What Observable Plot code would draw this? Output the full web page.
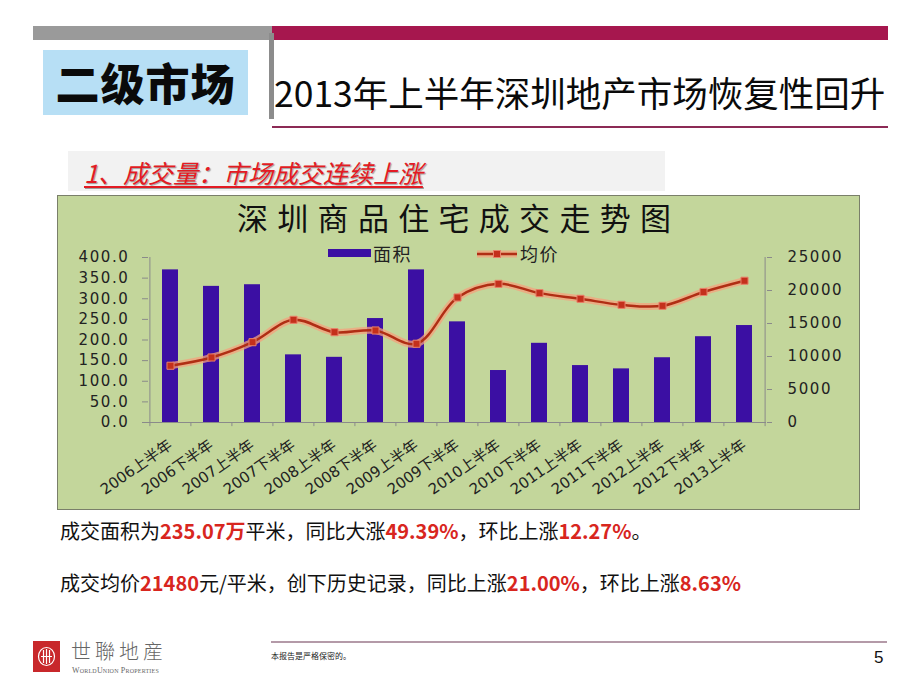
<!DOCTYPE html>
<html><head><meta charset="utf-8">
<script src="https://cdn.jsdelivr.net/npm/d3@7"></script>
<script src="https://cdn.jsdelivr.net/npm/@observablehq/plot@0.6"></script>
<style>
body{margin:0;background:#fff;}
#slide{position:relative;width:920px;height:690px;overflow:hidden;font-family:"Noto Sans CJK SC",sans-serif;color:#111;}
.abs{position:absolute;white-space:nowrap;}
.red{color:#d8261e;font-weight:bold;}
#chartbox{position:absolute;left:57px;top:195px;width:803px;height:315px;box-sizing:border-box;border:1px solid #7a7f6a;background:#c3d69b;}
#chart{position:absolute;left:0;top:0;}
#chart svg [aria-label="y-axis tick label"] text{letter-spacing:1.6px;}
</style></head><body>
<div id="slide">
  <div class="abs" style="left:33px;top:26px;width:239px;height:14px;background:#9a9a9a"></div>
  <div class="abs" style="left:272px;top:26px;width:616px;height:14px;background:#a6174e"></div>
  <div class="abs" style="left:269px;top:33px;width:5px;height:86px;background:#8c8c8c"></div>
  <div class="abs" style="left:43px;top:50px;width:205px;height:65px;background:#b7dff5;text-align:center;line-height:65px;font-size:44px;font-weight:900;color:#0a0a0a;letter-spacing:1px">二级市场</div>
  <div class="abs" style="left:274px;top:74px;font-size:35.5px;line-height:36px;color:#0a0a0a">2013年上半年深圳地产市场恢复性回升</div>
  <div class="abs" style="left:272px;top:126px;width:616px;height:2px;background:#8c2a55"></div>

  <div class="abs" style="left:68px;top:151px;width:597px;height:40px;background:#f2f2f2"></div>
  <div class="abs" style="left:84px;top:158px;font-size:25px;line-height:28px;color:#e31b23;font-style:italic;text-decoration:underline;text-decoration-thickness:1.5px;text-underline-offset:3px;text-shadow:1px 1px 1px rgba(0,0,0,0.35)">1、成交量：市场成交连续上涨</div>

  <div id="chartbox">
    <div id="chart"></div>
    <div class="abs" style="left:179px;top:5px;font-size:31px;line-height:31px;letter-spacing:9.3px;color:#111">深圳商品住宅成交走势图</div>
    <div class="abs" style="left:270px;top:53px;width:43px;height:8px;background:#3b0fa3"></div>
    <div class="abs" style="left:315px;top:48px;font-size:18px;line-height:18px;letter-spacing:1.5px;color:#222">面积</div>
    <svg class="abs" style="left:418px;top:50px" width="42" height="16">
      <line x1="1" y1="8" x2="41" y2="8" stroke="#f5a07c" stroke-width="7" stroke-opacity="0.75"/>
      <line x1="1" y1="8" x2="41" y2="8" stroke="#b02e14" stroke-width="2.5"/>
      <rect x="17.5" y="4.5" width="7" height="7" fill="#c4301c" stroke="#e8806a" stroke-width="1"/>
    </svg>
    <div class="abs" style="left:462px;top:48px;font-size:18px;line-height:18px;letter-spacing:1.5px;color:#222">均价</div>
  </div>

  <div class="abs" style="left:60px;top:520px;font-size:20px;line-height:22px;color:#111">成交面积为<span class="red">235.07万</span>平米，同比大涨<span class="red">49.39%</span>，环比上涨<span class="red">12.27%</span>。</div>
  <div class="abs" style="left:60px;top:572px;font-size:20px;line-height:22px;color:#111">成交均价<span class="red">21480</span>元/平米，创下历史记录，同比上涨<span class="red">21.00%</span>，环比上涨<span class="red">8.63%</span></div>

  <svg class="abs" style="left:33px;top:641px" width="27" height="31">
    <rect x="0" y="0" width="27" height="31" fill="#c8282b"/>
    <ellipse cx="13.5" cy="15.5" rx="8" ry="9" fill="none" stroke="#fff" stroke-width="1.2"/>
    <line x1="10.5" y1="9" x2="10.5" y2="22" stroke="#fff" stroke-width="1.2"/>
    <line x1="13.5" y1="8" x2="13.5" y2="23" stroke="#fff" stroke-width="1.2"/>
    <line x1="16.5" y1="9" x2="16.5" y2="22" stroke="#fff" stroke-width="1.2"/>
    <line x1="8" y1="15.5" x2="19" y2="15.5" stroke="#fff" stroke-width="1"/>
  </svg>
  <div class="abs" style="left:71px;top:641px;font-family:'Noto Sans CJK TC';font-weight:300;font-size:20px;line-height:20px;letter-spacing:4px;color:#666">世聯地産</div>
  <div class="abs" style="left:72px;top:666px;font-family:'Liberation Serif';font-variant:small-caps;font-size:8px;line-height:9px;color:#666;letter-spacing:0.2px">WorldUnion Properties</div>
  <div class="abs" style="left:271px;top:641px;width:616px;height:2px;background:#b49aa8"></div>
  <div class="abs" style="left:271px;top:651px;font-size:8px;line-height:10px;color:#222">本报告是严格保密的。</div>
  <div class="abs" style="left:874px;top:649px;font-family:Arial,'Liberation Sans';font-size:17px;line-height:18px;color:#111">5</div>
</div>
<script>
const categories = ["2006上半年","2006下半年","2007上半年","2007下半年","2008上半年","2008下半年","2009上半年","2009下半年","2010上半年","2010下半年","2011上半年","2011下半年","2012上半年","2012下半年","2013上半年"];
const area = [370, 330, 334, 164, 158, 252, 370, 244, 126, 192, 138, 130, 157, 208, 235.07];
const price = [8600, 9850, 12170, 15560, 13680, 13940, 11930, 18940, 21010, 19600, 18740, 17830, 17680, 19780, 21480];
const leftTicks = [0, 50, 100, 150, 200, 250, 300, 350, 400];
const rightTicks = [0, 5000, 10000, 15000, 20000, 25000];
const areaMax = 400, priceMax = 25000;

const rows = categories.map((c, i) => ({period: c, area: area[i], price: price[i]}));
const toLeft = v => v * areaMax / priceMax;

const W = 801, H = 313, ML = 90, MR = 93, MT = 61, MB = 87;
const step = (W - ML - MR) / categories.length;
const axisGray = "#8a8a8a";
const font = "'DejaVu Sans','Noto Sans CJK SC',sans-serif";

const chart = Plot.plot({
  width: W, height: H,
  marginLeft: ML, marginRight: MR, marginTop: MT, marginBottom: MB,
  style: {background: "transparent", fontFamily: font, fontSize: "15px", color: "#222", overflow: "visible"},
  x: {domain: categories, paddingInner: 0.6, paddingOuter: 0.3, align: 0.5, label: null},
  y: {domain: [0, areaMax], label: null},
  marks: [
    Plot.barY(rows, {x: "period", y: "area", fill: "#3b0fa3"}),
    Plot.ruleY([0], {stroke: axisGray}),
    Plot.ruleX([categories[0]], {x: d => d, y1: 0, y2: areaMax, dx: -step / 2, stroke: axisGray}),
    Plot.ruleX([categories[categories.length - 1]], {x: d => d, y1: 0, y2: areaMax, dx: step / 2, stroke: axisGray}),
    Plot.ruleX(categories, {x: d => d, y1: 0, y2: -10, dx: -step / 2, stroke: axisGray}),
    Plot.ruleX([categories[categories.length - 1]], {x: d => d, y1: 0, y2: -10, dx: step / 2, stroke: axisGray}),
    Plot.line(rows, {x: "period", y: d => toLeft(d.price), curve: "catmull-rom", stroke: "#f5a07c", strokeWidth: 7, strokeOpacity: 0.75}),
    Plot.line(rows, {x: "period", y: d => toLeft(d.price), curve: "catmull-rom", stroke: "#b02e14", strokeWidth: 2.5}),
    Plot.dot(rows, {x: "period", y: d => toLeft(d.price), symbol: "square", r: 4, fill: "#c4301c", stroke: "#e8806a", strokeWidth: 1}),
    Plot.axisY({anchor: "left", ticks: leftTicks, tickFormat: d => d.toFixed(1), tickSize: 6, tickPadding: 13, label: null, stroke: axisGray, fill: "#222", fontSize: 15}),
    Plot.axisY({anchor: "right", ticks: rightTicks.map(toLeft), tickFormat: d => String(Math.round(d * priceMax / areaMax)), tickSize: 5, tickPadding: 16, label: null, stroke: axisGray, fill: "#222", fontSize: 15}),
    Plot.axisX({tickRotate: -35, tickSize: 0, tickPadding: 21, label: null, fill: "#222", fontSize: 15})
  ]
});
document.getElementById("chart").appendChild(chart);
</script>
</body></html>
